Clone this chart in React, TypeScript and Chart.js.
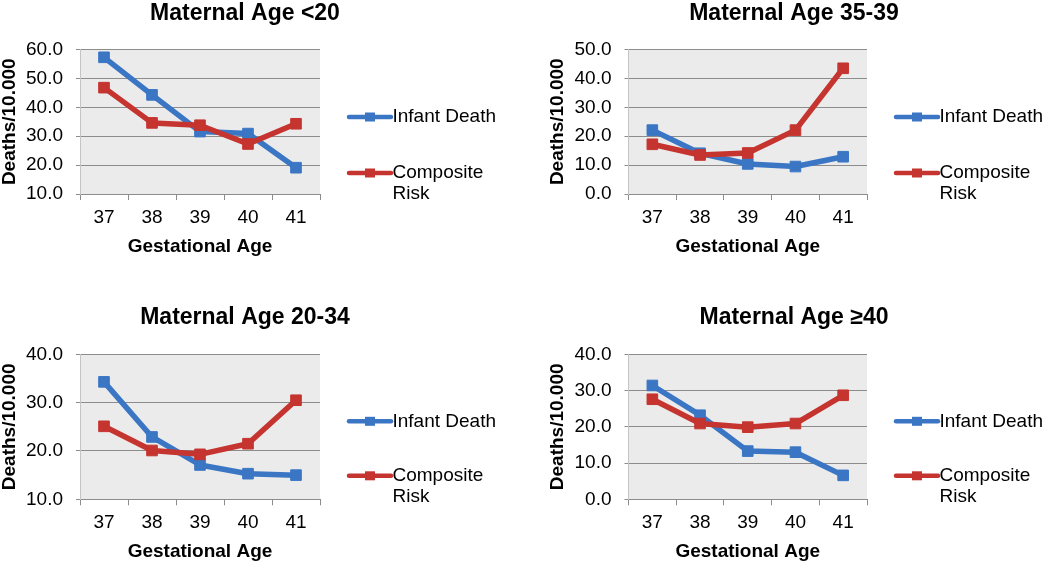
import React, { useEffect, useRef } from 'react';
import { Chart, registerables } from 'chart.js';

Chart.register(...registerables);

// ---------- data ----------
const gestationalAges = ['37', '38', '39', '40', '41'];
const seriesNames = ['Infant Death', 'Composite Risk'];
const legendLines = [['Infant Death'], ['Composite', 'Risk']];
const yAxisLabel = 'Deaths/10.000';
const xAxisLabel = 'Gestational Age';

const infantLt20 = [57.3, 44.3, 31.6, 30.9, 19.1];
const compositeLt20 = [46.8, 34.6, 33.8, 27.3, 34.3];

const infant3539 = [22.1, 14.1, 10.4, 9.5, 12.9];
const composite3539 = [17.2, 13.5, 14.2, 22.1, 43.5];

const infant2034 = [34.3, 22.9, 17.1, 15.3, 15.0];
const composite2034 = [25.1, 20.1, 19.3, 21.5, 30.5];

const infantGe40 = [31.4, 23.2, 13.3, 13.0, 6.6];
const compositeGe40 = [27.6, 20.9, 19.9, 20.9, 28.7];

// ---------- styles ----------
const BLUE = '#3A76C4';
const RED = '#C5342F';
const FONT = "'Liberation Sans', Arial, sans-serif";
const GRID = '#8C8C8C';
const PLOT_BG = '#EBEBEB';

type Panel = {
  title: string;
  infant: number[];
  composite: number[];
  yMin: number;
  yMax: number;
  left: number;
  top: number;
  padTop: number;
  padLeft: number;
  padRight: number;
  rightSpace: number;
  titleGap: number;
  xHeight: number;
  xTitlePad: number;
  xTickPad: number;
  legendY: number[];
};

const panels: Panel[] = [
  {
    title: 'Maternal Age <20', infant: infantLt20, composite: compositeLt20, yMin: 10, yMax: 60,
    left: 0, top: 0, padTop: 2, padLeft: 0, padRight: 35, rightSpace: 170,
    titleGap: 24.5, xHeight: 88, xTitlePad: 25.5, xTickPad: 8.5, legendY: [67.5, 123.5],
  },
  {
    title: 'Maternal Age 35-39', infant: infant3539, composite: composite3539, yMin: 0, yMax: 50,
    left: 525, top: 0, padTop: 2, padLeft: 23.5, padRight: 10.5, rightSpace: 172.5,
    titleGap: 24.5, xHeight: 88, xTitlePad: 25.5, xTickPad: 8.5, legendY: [67.5, 123.5],
  },
  {
    title: 'Maternal Age 20-34', infant: infant2034, composite: composite2034, yMin: 10, yMax: 40,
    left: 0, top: 282, padTop: 24, padLeft: 0, padRight: 35, rightSpace: 170,
    titleGap: 25.3, xHeight: 64.7, xTitlePad: 2.5, xTickPad: 8, legendY: [67, 121.5],
  },
  {
    title: 'Maternal Age \u226540', infant: infantGe40, composite: compositeGe40, yMin: 0, yMax: 40,
    left: 525, top: 282, padTop: 24, padLeft: 23.5, padRight: 10.5, rightSpace: 172.5,
    titleGap: 25.3, xHeight: 64.7, xTitlePad: 2.5, xTickPad: 8, legendY: [67, 121.5],
  },
];

const plotBgPlugin = {
  id: 'plotBg',
  beforeDraw(chart: any) {
    const { ctx, chartArea } = chart;
    ctx.save();
    ctx.fillStyle = PLOT_BG;
    ctx.fillRect(chartArea.left, chartArea.top, chartArea.right - chartArea.left, chartArea.bottom - chartArea.top);
    ctx.restore();
  },
};

const excelLegendPlugin = {
  id: 'excelLegend',
  afterDraw(chart: any, _args: any, opts: any) {
    const { ctx, chartArea } = chart;
    const colors = [BLUE, RED];
    ctx.save();
    legendLines.forEach((lines, i) => {
      const y = chartArea.top + opts.y[i];
      const x0 = chartArea.right + 29;
      const x1 = chartArea.right + 71;
      ctx.strokeStyle = colors[i];
      ctx.lineWidth = 4.5;
      ctx.lineCap = 'round';
      ctx.beginPath();
      ctx.moveTo(x0, y);
      ctx.lineTo(x1, y);
      ctx.stroke();
      ctx.fillStyle = colors[i];
      ctx.fillRect((x0 + x1) / 2 - 5, y - 4.5, 10, 9);
      ctx.fillStyle = '#000';
      ctx.font = `19px ${FONT}`;
      ctx.textBaseline = 'middle';
      ctx.textAlign = 'left';
      lines.forEach((t, k) => ctx.fillText(t, chartArea.right + 72.5, y + k * 21));
    });
    ctx.restore();
  },
};

function makeDataset(label: string, data: number[], color: string, order: number) {
  return {
    label,
    data,
    borderColor: color,
    backgroundColor: color,
    borderWidth: 5.5,
    pointStyle: 'rect',
    pointRadius: 7.5,
    pointBorderWidth: 1,
    pointBackgroundColor: color,
    pointBorderColor: color,
    borderJoinStyle: 'round',
    borderCapStyle: 'round',
    tension: 0,
    order,
  };
}

function PanelChart({ p }: { p: Panel }) {
  const ref = useRef<HTMLCanvasElement | null>(null);
  useEffect(() => {
    if (!ref.current) return;
    const chart = new Chart(ref.current, {
      type: 'line',
      data: {
        labels: gestationalAges,
        datasets: [
          makeDataset(seriesNames[0], p.infant, BLUE, 1),
          makeDataset(seriesNames[1], p.composite, RED, 0),
        ],
      },
      options: {
        animation: false,
        responsive: false,
        events: [],
        layout: { padding: { top: p.padTop, left: p.padLeft, right: p.padRight, bottom: 0 } },
        plugins: {
          legend: { display: false },
          tooltip: { enabled: false },
          title: {
            display: true,
            text: p.title,
            color: '#000',
            font: { family: FONT, size: 23, weight: 'bold', lineHeight: 1 },
            padding: { top: 0, bottom: p.titleGap },
          },
          excelLegend: { y: p.legendY },
        } as any,
        scales: {
          x: {
            type: 'category',
            offset: true,
            grid: {
              display: true,
              offset: true,
              drawOnChartArea: false,
              drawTicks: true,
              tickLength: 6,
              color: GRID,
            },
            border: { display: true, color: GRID, width: 1 },
            ticks: {
              color: '#000',
              font: { family: FONT, size: 19, lineHeight: 1 },
              padding: p.xTickPad,
              maxRotation: 0,
            },
            title: {
              display: true,
              text: xAxisLabel,
              color: '#000',
              font: { family: FONT, size: 19, weight: 'bold', lineHeight: 1 },
              padding: { top: 0, bottom: p.xTitlePad },
            },
            afterFit: (s: any) => { s.height = p.xHeight; },
          },
          y: {
            type: 'linear',
            min: p.yMin,
            max: p.yMax,
            grid: { color: GRID, lineWidth: 1, drawTicks: true, tickLength: 4 },
            border: { display: true, color: '#C4C4C4', width: 1 },
            ticks: {
              stepSize: 10,
              color: '#000',
              font: { family: FONT, size: 19, lineHeight: 1 },
              padding: 13,
              callback: (v: any) => Number(v).toFixed(1),
            },
            title: {
              display: true,
              text: yAxisLabel,
              color: '#000',
              font: { family: FONT, size: 19, weight: 'bold', lineHeight: 1 },
              padding: { top: 0, bottom: 0 },
            },
            afterFit: (s: any) => { s.width = 80; },
          },
          legendSpace: {
            type: 'linear',
            position: 'right',
            display: true,
            grid: { display: false, drawTicks: false },
            border: { display: false },
            ticks: { display: false },
            title: { display: false },
            afterFit: (s: any) => { s.width = p.rightSpace; },
          },
        } as any,
      },
      plugins: [plotBgPlugin, excelLegendPlugin],
    } as any);
    return () => chart.destroy();
  }, [p]);
  return (
    <div style={{ position: 'absolute', left: p.left, top: p.top, width: 525, height: 282 }}>
      <canvas ref={ref} width={525} height={282} style={{ width: 525, height: 282, display: 'block' }} />
    </div>
  );
}

export default function App() {
  return (
    <div style={{ position: 'absolute', left: 0, top: 0, width: 1050, height: 564, background: '#fff', overflow: 'hidden' }}>
      {panels.map((p, i) => (
        <PanelChart key={i} p={p} />
      ))}
    </div>
  );
}
